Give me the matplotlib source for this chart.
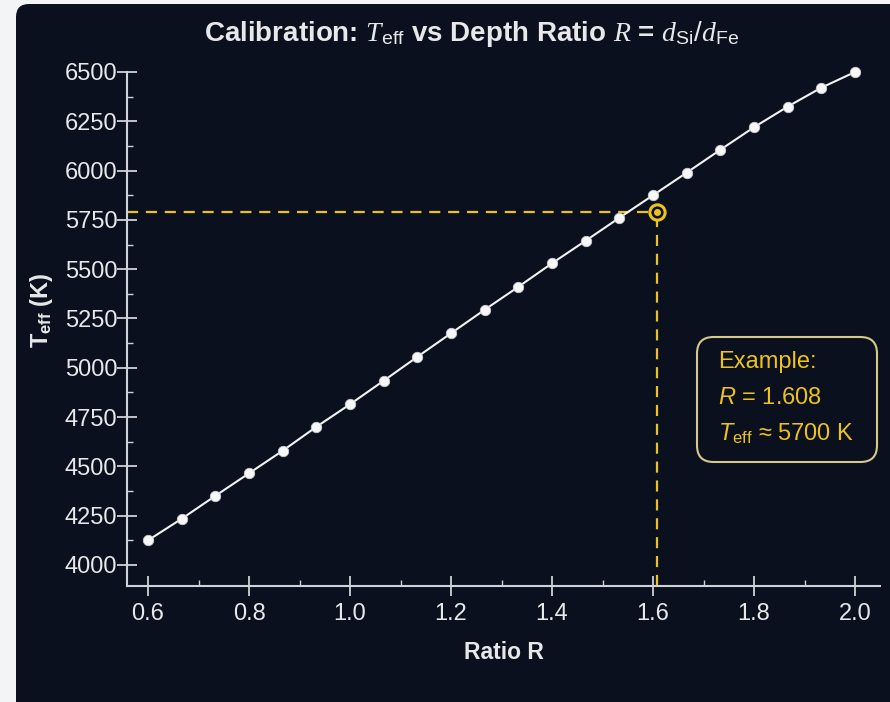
import matplotlib
matplotlib.use("Agg")
import matplotlib.pyplot as plt
from matplotlib.patches import FancyBboxPatch
from matplotlib.ticker import MultipleLocator

plt.rcParams['font.family'] = ['Liberation Sans', 'DejaVu Sans']
plt.rcParams['mathtext.fontset'] = 'custom'
plt.rcParams['mathtext.rm'] = 'Liberation Sans'
plt.rcParams['mathtext.it'] = 'Liberation Serif:italic'
plt.rcParams['mathtext.bf'] = 'Liberation Sans:bold'
plt.rcParams['mathtext.sf'] = 'Liberation Sans:italic'

# Calibration curve: depth ratio R vs effective temperature
ratio_r = [0.6, 0.667, 0.733, 0.8, 0.867, 0.933, 1.0, 1.067, 1.133, 1.2, 1.267,
           1.333, 1.4, 1.467, 1.533, 1.6, 1.667, 1.733, 1.8, 1.867, 1.933, 2.0]
teff_k = [4125, 4235, 4350, 4465, 4580, 4700, 4815, 4935, 5055, 5175, 5295,
          5410, 5530, 5645, 5760, 5875, 5990, 6105, 6220, 6325, 6420, 6500]

# Worked example point
example_r = 1.608
example_teff = 5790

x_ticks = [0.6, 0.8, 1.0, 1.2, 1.4, 1.6, 1.8, 2.0]
y_ticks = [4000, 4250, 4500, 4750, 5000, 5250, 5500, 5750, 6000, 6250, 6500]

BG = '#0a101e'
FG = '#e8e8ea'
SPINE = '#cfd2d8'
GOLD = '#eec21c'
BOX_EDGE = '#d6c98a'

W, H = 890, 702
fig = plt.figure(figsize=(W / 100, H / 100), dpi=100)
fig.patch.set_facecolor('#f3f4f6')

# Dark rounded panel behind the chart (pixel coordinates)
bg_ax = fig.add_axes([0, 0, 1, 1], zorder=-10)
bg_ax.set_xlim(0, W)
bg_ax.set_ylim(0, H)
bg_ax.axis('off')
bg_ax.add_patch(FancyBboxPatch((16, -30), W + 40, H - 4 + 30,
                               boxstyle='round,pad=0,rounding_size=13',
                               facecolor=BG, edgecolor='none'))

ax_left, ax_right, ax_top, ax_bottom = 127, 880, 72, 586
ax_w, ax_h = ax_right - ax_left, ax_bottom - ax_top
ax = fig.add_axes([ax_left / W, 1 - ax_bottom / H, ax_w / W, ax_h / H])
ax.set_facecolor('none')

ax.set_xlim(0.5584, 2.0495)
ax.set_ylim(3893.5, 6500)

for side in ('top', 'right'):
    ax.spines[side].set_visible(False)
for side in ('left', 'bottom'):
    ax.spines[side].set_color(SPINE)
    ax.spines[side].set_linewidth(1.5)

ax.set_xticks(x_ticks)
ax.set_xticklabels([f'{v:.1f}' for v in x_ticks])
ax.set_yticks(y_ticks)
ax.set_yticklabels([str(v) for v in y_ticks])
ax.xaxis.set_minor_locator(MultipleLocator(0.1))
ax.yaxis.set_minor_locator(MultipleLocator(125))
ax.tick_params(which='major', direction='inout', length=14, width=1.3,
               color=SPINE, labelcolor=FG, labelsize=17)
ax.tick_params(axis='y', which='major', pad=0)
ax.tick_params(axis='x', which='major', pad=5)
ax.tick_params(which='minor', direction='in', length=4, width=1.0, color=SPINE)

# Calibration line with sample points
ax.plot(ratio_r, teff_k, color='#f2f2f2', lw=1.5, marker='o', markersize=7.5,
        markerfacecolor='#f7f7f7', markeredgecolor='#c9ccd2',
        markeredgewidth=0.6, clip_on=False, zorder=3)

# Guide lines from the axes to the example point
ax.plot([ax.get_xlim()[0], example_r], [example_teff, example_teff],
        color=GOLD, lw=1.6, ls=(0, (5, 3.5)), zorder=2)
ax.plot([example_r, example_r], [ax.get_ylim()[0], example_teff],
        color=GOLD, lw=1.6, ls=(0, (5, 3.5)), zorder=2)
ax.plot([example_r], [example_teff], marker='o', markersize=11,
        markerfacecolor=BG, markeredgecolor=GOLD, markeredgewidth=2.2, zorder=4)
ax.plot([example_r], [example_teff], marker='o', markersize=4,
        markerfacecolor=GOLD, markeredgecolor=GOLD, zorder=5)

# Example annotation box
bx0, bx1 = (697 - ax_left) / ax_w, (877 - ax_left) / ax_w
by0, by1 = (ax_bottom - 462) / ax_h, (ax_bottom - 337) / ax_h
ax.add_patch(FancyBboxPatch((bx0, by0), bx1 - bx0, by1 - by0,
                            boxstyle='round,pad=0,rounding_size=0.022',
                            mutation_aspect=ax_w / ax_h,
                            transform=ax.transAxes, facecolor=BG,
                            edgecolor=BOX_EDGE, lw=1.5, zorder=6))
tx = (718 - ax_left) / ax_w


def row(y_px):
    return (ax_bottom - y_px) / ax_h


ax.text(tx, row(362), 'Example:', transform=ax.transAxes, color=GOLD,
        fontsize=17, va='center', ha='left', zorder=7)
ax.text(tx, row(398), r'$\mathsf{R}$ = ' + f'{example_r:.3f}', transform=ax.transAxes,
        color=GOLD, fontsize=17, va='center', ha='left', zorder=7)
ax.text(tx, row(434), r'$\mathsf{T}_{\mathrm{eff}}$ ≈ 5700 K', transform=ax.transAxes,
        color=GOLD, fontsize=17, va='center', ha='left', zorder=7)

ax.set_xlabel('Ratio R', color=FG, fontsize=16.5, fontweight='bold')
ax.xaxis.set_label_coords(0.5, -(641 - ax_bottom) / ax_h)
ax.set_ylabel(r'T$_{\mathbf{eff}}$ (K)', color=FG, fontsize=17, fontweight='bold')
ax.yaxis.set_label_coords(-(ax_left - 55) / ax_w, (ax_bottom - 310) / ax_h)

fig.text(472 / W, 1 - 34 / H,
         r'Calibration: $T_{\mathrm{eff}}$ vs Depth Ratio $R$ = $d_{\mathrm{Si}}/d_{\mathrm{Fe}}$',
         color=FG, fontsize=20, fontweight='bold', ha='center', va='center')

fig.savefig('out.png', dpi=100, facecolor=fig.get_facecolor())
